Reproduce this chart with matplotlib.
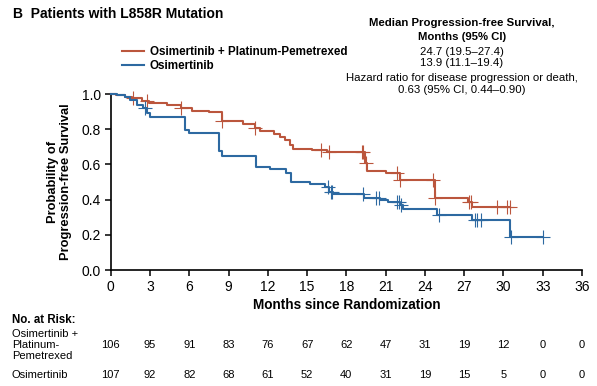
import numpy as np
import matplotlib
matplotlib.use('Agg')
import matplotlib.pyplot as plt
import matplotlib.transforms as mtransforms

plt.rcParams['font.family'] = ['Liberation Sans', 'DejaVu Sans']

# Kaplan-Meier steps: (time of drop, survival after drop)
combo_t = [0, 0.4, 1.1, 1.6, 2.4, 2.9, 4.3, 5.4, 6.2, 7.5, 8.5, 10.1, 11.0, 11.4,
           12.5, 12.9, 13.3, 13.7, 13.95, 15.35, 16.5, 19.4, 19.6, 21.05, 22.1,
           24.8, 27.3, 27.6]
combo_s = [1.0, 0.994, 0.985, 0.975, 0.96, 0.947, 0.937, 0.923, 0.905, 0.895, 0.847,
           0.83, 0.805, 0.79, 0.771, 0.758, 0.739, 0.71, 0.69, 0.68, 0.673, 0.61,
           0.565, 0.549, 0.511, 0.407, 0.385, 0.36]
combo_end = 30.5
combo_cens = [1.7, 2.8, 5.4, 8.5, 11.0, 16.1, 16.7, 19.2, 19.3, 19.5, 21.9, 22.1,
              24.6, 24.8, 27.4, 27.5, 29.5, 30.3, 30.5]

osi_t = [0, 0.5, 1.1, 1.5, 2.0, 2.5, 2.75, 3.0, 5.65, 5.95, 8.3, 8.5, 11.1, 12.15,
         13.4, 13.8, 15.2, 16.35, 16.7, 17.0, 19.35, 20.55, 21.2, 22.1, 22.35,
         24.9, 27.6, 30.5]
osi_s = [1.0, 0.994, 0.985, 0.966, 0.94, 0.918, 0.89, 0.871, 0.795, 0.78, 0.675, 0.65,
         0.587, 0.572, 0.549, 0.498, 0.487, 0.473, 0.445, 0.43, 0.41, 0.398, 0.389,
         0.37, 0.347, 0.3125, 0.285, 0.19]
osi_end = 33.0
osi_cens = [2.6, 16.6, 16.8, 16.9, 19.3, 20.3, 20.5, 21.9, 22.0, 22.2, 25.1, 27.8,
            28.0, 28.3, 30.6, 33.0]

months = [0, 3, 6, 9, 12, 15, 18, 21, 24, 27, 30, 33, 36]
risk_combo = [106, 95, 91, 83, 76, 67, 62, 47, 31, 19, 12, 0, 0]
risk_osi = [107, 92, 82, 68, 61, 52, 40, 31, 19, 15, 5, 0, 0]

red = '#bb563d'
blue = '#2d69a1'

W, H = 597, 386
fig = plt.figure(figsize=(W / 100, H / 100), dpi=100)
ax = fig.add_axes([110.7 / W, 1 - 270 / H, 471.3 / W, 176 / H])


def km(ax, t, s, end, cens, color, label):
    tt = np.append(t, end)
    ss = np.append(s, s[-1])
    ax.step(tt, ss, where='post', color=color, lw=1.5, label=label, clip_on=False, zorder=3)
    idx = np.searchsorted(t, cens, side='right') - 1
    ax.plot(cens, np.array(s)[idx], ls='none', marker='+', ms=10, mew=0.8,
            color=color, clip_on=False, zorder=3)


km(ax, combo_t, combo_s, combo_end, combo_cens, red, 'Osimertinib + Platinum-Pemetrexed')
km(ax, osi_t, osi_s, osi_end, osi_cens, blue, 'Osimertinib')

ax.set_xlim(0, 36)
ax.set_ylim(0, 1.0)
ax.set_xticks(months)
ax.set_yticks(np.arange(0, 1.01, 0.2))
ax.set_yticklabels(['0.0', '0.2', '0.4', '0.6', '0.8', '1.0'])
ax.tick_params(direction='out', length=4, width=1.1, labelsize=10, pad=3, colors='black')
for sp in ['top', 'right']:
    ax.spines[sp].set_visible(False)
for sp in ['left', 'bottom']:
    ax.spines[sp].set_linewidth(1.2)

ax.set_xlabel('Months since Randomization', fontsize=9.8, fontweight='bold')
ax.xaxis.set_label_coords(0.5, -0.16)
ax.set_ylabel('Probability of\nProgression-free Survival', fontsize=9.3,
              fontweight='bold', linespacing=1.1)
ax.yaxis.set_label_coords(-0.082, 0.5)

leg = ax.legend(loc='upper left', bbox_to_anchor=(122 / W, 1 - 46 / H),
                bbox_transform=fig.transFigure, frameon=False, handlelength=1.9,
                handletextpad=0.5, labelspacing=0.15, borderpad=0, borderaxespad=0,
                prop={'size': 8.4, 'weight': 'bold'})

fig.text(13 / W, 1 - 14 / H, 'B  Patients with L858R Mutation', fontsize=10,
         fontweight='bold', va='center', ha='left')

cx = 461.7 / W
fs = 8.2
fig.text(cx, 1 - 23.3 / H, 'Median Progression-free Survival,', fontsize=fs,
         fontweight='bold', ha='center', va='center')
fig.text(cx, 1 - 36.7 / H, 'Months (95% CI)', fontsize=fs, fontweight='bold',
         ha='center', va='center')
fig.text(cx, 1 - 51.7 / H, '24.7 (19.5\u201327.4)', fontsize=fs, ha='center', va='center')
fig.text(cx, 1 - 63.3 / H, '13.9 (11.1\u201319.4)', fontsize=fs, ha='center', va='center')
fig.text(cx, 1 - 78.3 / H, 'Hazard ratio for disease progression or death,', fontsize=fs,
         ha='center', va='center')
fig.text(cx, 1 - 90 / H, '0.63 (95% CI, 0.44\u20130.90)', fontsize=fs, ha='center',
         va='center')

# number at risk table
fig.text(12 / W, 1 - 320 / H, 'No. at Risk:', fontsize=8.3, fontweight='bold', va='center')
fig.text(12 / W, 1 - 345 / H, 'Osimertinib +\nPlatinum-\nPemetrexed', fontsize=8,
         va='center', linespacing=1.08)
fig.text(12 / W, 1 - 375.5 / H, 'Osimertinib', fontsize=8, va='center')
trans = mtransforms.blended_transform_factory(ax.transData, fig.transFigure)
for m, a, b in zip(months, risk_combo, risk_osi):
    ax.text(m, 1 - 345 / H, str(a), transform=trans, fontsize=8, ha='center', va='center')
    ax.text(m, 1 - 375.5 / H, str(b), transform=trans, fontsize=8, ha='center', va='center')

fig.savefig('out.png', dpi=100)
